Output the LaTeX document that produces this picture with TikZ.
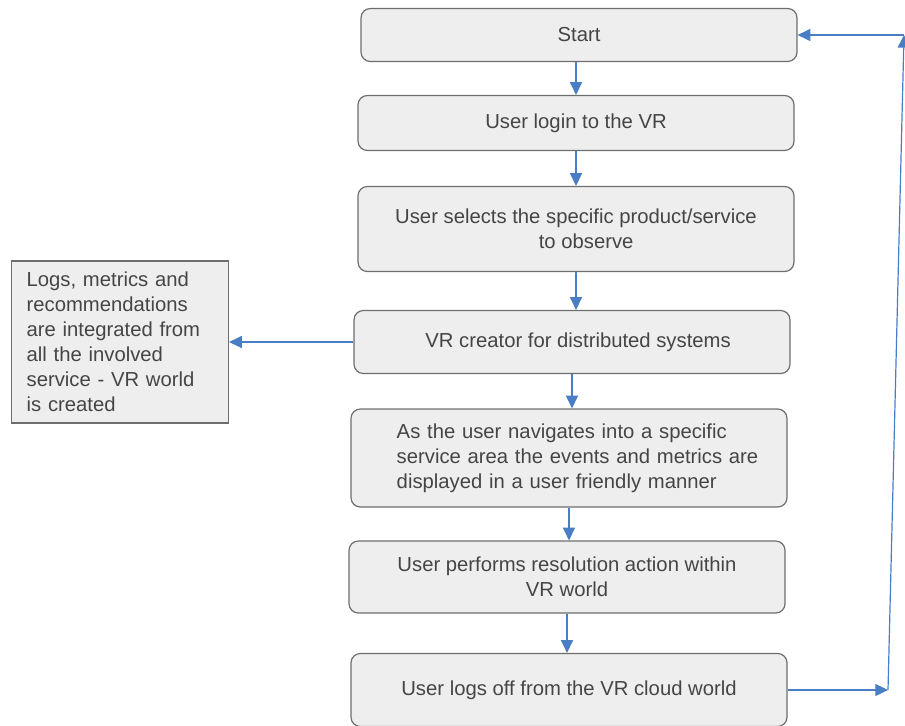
\documentclass[tikz,border=0pt]{standalone}
\usepackage{fontspec}
\setmainfont{Liberation Sans}
\usetikzlibrary{arrows.meta}
\definecolor{boxfill}{HTML}{EEEEEE}
\definecolor{boxline}{HTML}{6E6E6E}
\definecolor{txtgray}{HTML}{454545}
\definecolor{flowblue}{HTML}{4A7EC4}

\begin{document}
\begin{tikzpicture}[x=0.75pt, y=-0.75pt,
	procbox/.style={draw=boxline, fill=boxfill, rounded corners=7pt, line width=0.9pt,
		minimum width=327pt, text=txtgray, font=\fontsize{15.2}{18.7}\selectfont, inner sep=0pt},
	notebox/.style={draw=boxline, fill=boxfill, line width=0.9pt, minimum width=162.75pt,
		minimum height=121.5pt, text=txtgray, font=\fontsize{15.2}{18.7}\selectfont,
		align=left, text width=140pt, inner sep=0pt},
	flow/.style={draw=flowblue, line width=0.9pt, -{Triangle[length=9.5pt, width=9pt]}}]
	\useasboundingbox (0,0) rectangle (905,725);

	% process column
	\node[procbox, minimum height=39.75pt] (start) at (579,35) {Start};
	\node[procbox, minimum height=41.25pt] (login) at (576,123) {User login to the VR};
	\node[procbox, minimum height=63.75pt, align=center] (select) at (576,229)
		{User selects the specific product/service\\ \hspace*{1.0em}to observe};
	\node[procbox, minimum height=47.25pt] (creator) at (572,342)
		{\hspace*{0.6em}VR creator for distributed systems};
	\node[procbox, minimum height=73.5pt, align=left, text width=304pt] (navigate) at (569,458)
		{\hspace*{1.5em}As the user navigates into a specific\\
		 \hspace*{1.5em}service area the events and metrics are\\
		 \hspace*{1.5em}displayed in a user friendly manner};
	\node[procbox, minimum height=54pt, align=center] (resolve) at (567,577)
		{User performs resolution action within\\ VR world};
	\node[procbox, minimum height=54.75pt] (logoff) at (569,690)
		{User logs off from the VR cloud world};

	% side note
	\node[notebox] (merge) at (120,342)
		{Logs, metrics and\\ recommendations\\ are integrated from\\ all the involved\\ service - VR world\\ is created};

	% loop back
	\coordinate (loopbot) at (888,690);
	\coordinate (looptop) at (904,35);

	\draw[flow] (login.north |- start.south) -- (login.north);
	\draw[flow] (login.south) -- (login.south |- select.north);
	\draw[flow] (select.south) -- (select.south |- creator.north);
	\draw[flow] (creator.south) -- (creator.south |- navigate.north);
	\draw[flow] (navigate.south) -- (navigate.south |- resolve.north);
	\draw[flow] (resolve.south) -- (resolve.south |- logoff.north);
	\draw[flow] (creator.west) -- (merge.east);
	\draw[flow] (logoff.east) -- (loopbot);
	\draw[flow] (loopbot) -- (looptop);
	\draw[flow] (looptop) -- (start.east);
\end{tikzpicture}
\end{document}
